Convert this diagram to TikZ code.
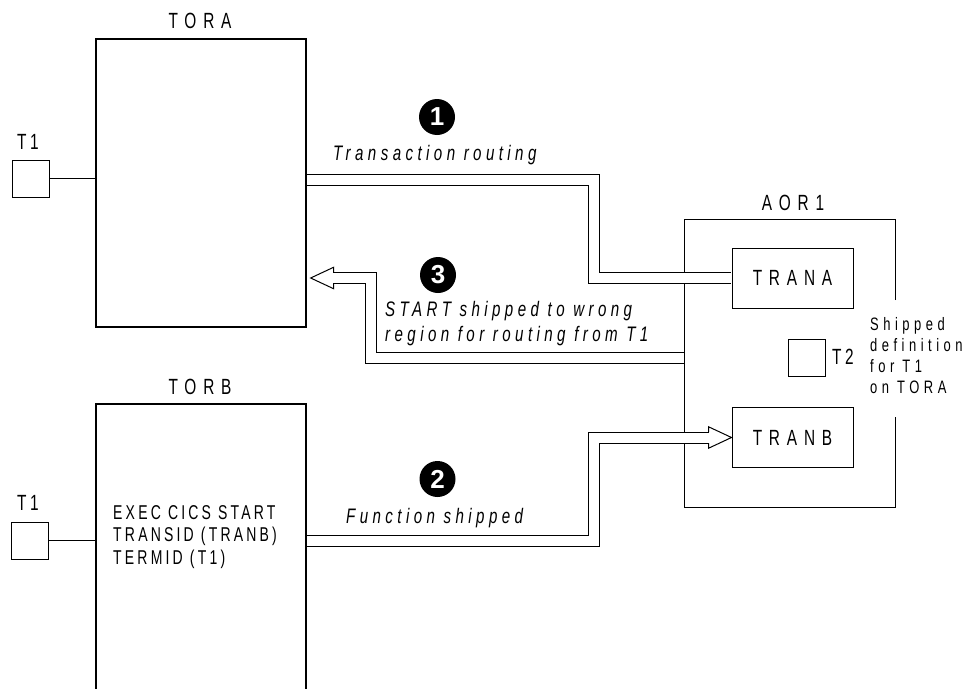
\documentclass[tikz,border=0pt]{standalone}
\usepackage{fontspec}
\setmainfont{Liberation Sans}[FakeStretch=0.72, LetterSpace=21]
\newfontfamily\widefont{Liberation Sans}[FakeStretch=0.7, LetterSpace=31]
\newfontfamily\tightfont{Liberation Sans}[FakeStretch=0.7, LetterSpace=16]
\newfontfamily\notefont{Liberation Sans}[FakeStretch=0.72, LetterSpace=25]
\newfontfamily\numfont{Liberation Sans}
\usepackage{tikz}

\begin{document}
\begin{tikzpicture}[x=1pt,y=-1pt,
  box/.style={draw,line width=1.3pt,inner sep=0},
  term/.style={draw,line width=1pt,minimum size=37pt,inner sep=0},
  tran/.style={draw,line width=1pt,minimum width=121pt,minimum height=60pt,inner sep=0,font=\widefont\fontsize{22}{26}\selectfont},
  title/.style={inner sep=0,font=\widefont\fontsize{22}{26}\selectfont},
  small/.style={inner sep=0,font=\tightfont\fontsize{20}{22.5}\selectfont},
  note/.style={inner sep=0,font=\itshape\fontsize{21}{25}\selectfont},
  num/.style={circle,fill=black,minimum size=36pt,inner sep=0,text=white,font=\numfont\bfseries\fontsize{26}{26}\selectfont},
  pipe/.style={double,double distance=10pt,line width=1pt,line join=miter},
  pipehead/.style={line width=1pt,line join=miter}]
	\useasboundingbox (0,0) rectangle (966,688);
	% regions
	\node[box,minimum width=210pt,minimum height=288pt] (TORA) at (201,183) {};
	\node[box,minimum width=210pt,minimum height=288pt] (TORB) at (201,548) {};
	\node[inner sep=0,minimum width=210pt,minimum height=287pt] (AOR1) at (790,363.5) {};
	\node[title] at (200,21) {TORA};
	\node[title] at (200,387) {TORB};
	\node[title] at (793,203) {AOR1};
	% AOR1 outline, open on the right for the note
	\draw[line width=1.3pt] (AOR1.east |- 0,300) -- (AOR1.north east) -- (AOR1.north west)
	  -- (AOR1.south west) -- (AOR1.south east) -- (AOR1.east |- 0,417);
	% terminals
	\node[term] (T1a) at (30.5,178.5) {};
	\node[term] (T1b) at (30,540.5) {};
	\node[term] (T2) at (806.5,357.5) {};
	\node[title,font=\tightfont\fontsize{22}{26}\selectfont,anchor=west] at (17,142) {T1};
	\node[title,font=\tightfont\fontsize{22}{26}\selectfont,anchor=west] at (17,503) {T1};
	\node[title,font=\tightfont\fontsize{22}{26}\selectfont,anchor=west] at (832,357) {T2};
	\draw[line width=1pt] (T1a.east) -- (T1a.east -| TORA.west);
	\draw[line width=1pt] (T1b.east) -- (T1b.east -| TORB.west);
	% transactions
	\node[tran] (TRANA) at (792.5,278) {TRANA};
	\node[tran] (TRANB) at (792.5,437.5) {TRANB};
	\node[small,anchor=north west,align=left] at (113,505) {EXEC CICS START\\TRANSID (TRANB)\\TERMID (T1)};
	\node[inner sep=0,anchor=north west,align=left,font=\notefont\fontsize{18}{21}\selectfont] at (870,317)
	  {Shipped\\definition\\for T1\\on TORA};
	% step numbers
	\node[num] (n1) at (437,117) {1};
	\node[num] (n2) at (437.5,479) {2};
	\node[num] (n3) at (438,275) {3};
	% Transaction routing
	\draw[pipe,shorten <=0.65pt,shorten >=0.5pt] ([yshift=3.5pt]TORA.east) -| (594,278) -- (TRANA.west);
	\node[note,anchor=base west] at (333,160) {Transaction routing};
	% Function shipped
	\coordinate (h2) at ([xshift=-23pt]TRANB.west);
	\draw[pipe,shorten <=0.65pt,shorten >=-0.5pt] (TORB.east |- T1b) -| (594,437.5) -- (h2);
	\draw[pipehead] ([yshift=5.5pt]h2) -- ([yshift=10.75pt]h2) -- (TRANB.west)
	  -- ([yshift=-10.75pt]h2) -- ([yshift=-5.5pt]h2);
	\node[note,anchor=base west] at (346,523) {Function shipped};
	% START shipped to wrong region
	\coordinate (t3) at ([xshift=4pt]TORA.east |- TRANA.west);
	\coordinate (h3) at ([xshift=23pt]t3);
	\draw[pipe,shorten <=0.65pt,shorten >=-0.5pt] (AOR1.west |- 0,358) -| (371,278) -- (h3);
	\draw[pipehead] ([yshift=5.5pt]h3) -- ([yshift=10.75pt]h3) -- (t3)
	  -- ([yshift=-10.75pt]h3) -- ([yshift=-5.5pt]h3);
	\node[note,anchor=north west,align=left] at (385,301.5) {START shipped to wrong\\region for routing from T1};
\end{tikzpicture}
\end{document}
